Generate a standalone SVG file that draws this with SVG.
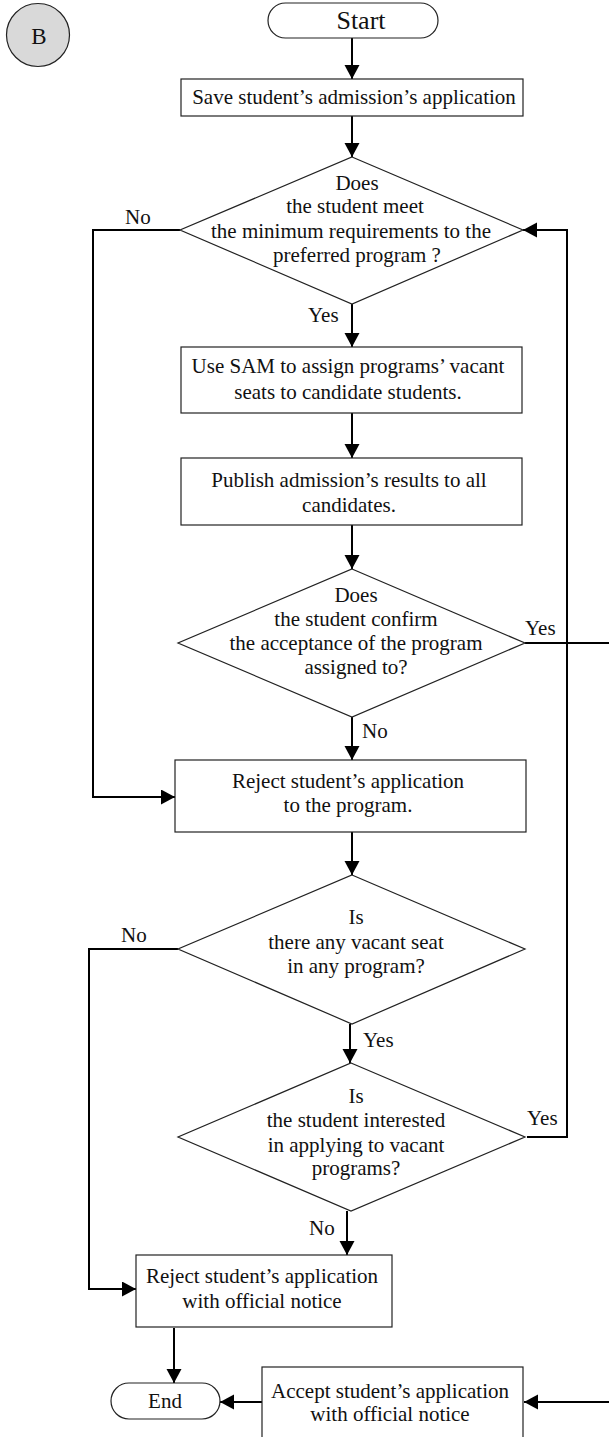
<svg xmlns="http://www.w3.org/2000/svg" width="609" height="1437" viewBox="0 0 609 1437">
<defs>
<style>
.shape{fill:#fff;stroke:#222;stroke-width:1.2}
.term{fill:#fff;stroke:#222;stroke-width:1.2}
.conn{fill:none;stroke:#000;stroke-width:2}
text{font-family:"Liberation Serif","Times New Roman",serif;font-size:21px;fill:#111}
.c{text-anchor:middle}
</style>
<marker id="arr" markerUnits="userSpaceOnUse" markerWidth="16" markerHeight="16" refX="14" refY="7.5" orient="auto">
<path d="M0,0 L14,7.5 L0,15 z" fill="#000"/>
</marker>
</defs>
<rect width="609" height="1437" fill="#fff"/>

<g id="connectors">
<path class="conn" d="M352,38 V79" marker-end="url(#arr)"/>
<path class="conn" d="M352,116 V157" marker-end="url(#arr)"/>
<path class="conn" d="M352,304 V347" marker-end="url(#arr)"/>
<path class="conn" d="M352,413 V458" marker-end="url(#arr)"/>
<path class="conn" d="M352,525 V569" marker-end="url(#arr)"/>
<path class="conn" d="M352,717 V760" marker-end="url(#arr)"/>
<path class="conn" d="M180,230 H93 V797 H175" marker-end="url(#arr)"/>
<path class="conn" d="M352,832 V875" marker-end="url(#arr)"/>
<path class="conn" d="M350,1024 V1063" marker-end="url(#arr)"/>
<path class="conn" d="M178,949 H89 V1289 H136" marker-end="url(#arr)"/>
<path class="conn" d="M347,1211 V1255" marker-end="url(#arr)"/>
<path class="conn" d="M527,1137 H567 V230 H523" marker-end="url(#arr)"/>
<path class="conn" d="M525,643 H609"/>
<path class="conn" d="M174,1328 V1383" marker-end="url(#arr)"/>
<path class="conn" d="M262,1402 H220" marker-end="url(#arr)"/>
<path class="conn" d="M609,1402 H524" marker-end="url(#arr)"/>
</g>

<g id="node-b">
<ellipse cx="38" cy="35" rx="31.5" ry="31.5" fill="#d9d9d9" stroke="#222" stroke-width="1.2"/>
<text class="c" x="39" y="44" style="font-size:23px">B</text>
</g>

<g id="node-start">
<rect class="term" x="268" y="3" width="170" height="35" rx="17.5"/>
<text class="c" x="361" y="29" style="font-size:26px">Start</text>
</g>

<g id="node-save">
<rect class="shape" x="181" y="79" width="342" height="37"/>
<text class="c" x="354" y="104">Save student’s admission’s application</text>
</g>

<g id="node-d1">
<polygon class="shape" points="352,157 523,230 352,304 180,230"/>
<text class="c" x="357" y="190">Does</text>
<text class="c" x="355" y="213">the student meet</text>
<text class="c" x="351" y="238">the minimum requirements to the</text>
<text class="c" x="357" y="262">preferred program ?</text>
<text x="125" y="224">No</text>
<text x="308" y="322">Yes</text>
</g>

<g id="node-sam">
<rect class="shape" x="181" y="347" width="341" height="66"/>
<text class="c" x="348" y="373">Use SAM to assign programs’ vacant</text>
<text class="c" x="348" y="399">seats to candidate students.</text>
</g>

<g id="node-publish">
<rect class="shape" x="181" y="458" width="341" height="67"/>
<text class="c" x="349" y="487">Publish admission’s results to all</text>
<text class="c" x="349" y="512">candidates.</text>
</g>

<g id="node-d2">
<polygon class="shape" points="352,569 525,643 352,717 178,643"/>
<text class="c" x="356" y="602">Does</text>
<text class="c" x="356" y="626">the student confirm</text>
<text class="c" x="356" y="650">the acceptance of the program</text>
<text class="c" x="356" y="674">assigned to?</text>
<text x="525" y="635">Yes</text>
<text x="362" y="738">No</text>
</g>

<g id="node-reject1">
<rect class="shape" x="175" y="760" width="351" height="72"/>
<text class="c" x="348" y="788">Reject student’s application</text>
<text class="c" x="348" y="812">to the program.</text>
</g>

<g id="node-d3">
<polygon class="shape" points="352,875 525,949 352,1024 178,949"/>
<text class="c" x="356" y="924">Is</text>
<text class="c" x="356" y="949">there any vacant seat</text>
<text class="c" x="356" y="973">in any program?</text>
<text x="121" y="942">No</text>
<text x="363" y="1047">Yes</text>
</g>

<g id="node-d4">
<polygon class="shape" points="351,1063 525,1137 351,1211 178,1137"/>
<text class="c" x="356" y="1103">Is</text>
<text class="c" x="356" y="1127">the student interested</text>
<text class="c" x="356" y="1152">in applying to vacant</text>
<text class="c" x="356" y="1175">programs?</text>
<text x="527" y="1125">Yes</text>
<text x="309" y="1235">No</text>
</g>

<g id="node-reject2">
<rect class="shape" x="136" y="1255" width="256" height="72"/>
<text class="c" x="262" y="1283">Reject student’s application</text>
<text class="c" x="262" y="1308">with official notice</text>
</g>

<g id="node-end">
<rect class="term" x="111" y="1383" width="109" height="36" rx="18"/>
<text class="c" x="165" y="1408">End</text>
</g>

<g id="node-accept">
<rect class="shape" x="262" y="1367" width="261" height="80"/>
<text class="c" x="390" y="1398">Accept student’s application</text>
<text class="c" x="390" y="1421">with official notice</text>
</g>
</svg>
